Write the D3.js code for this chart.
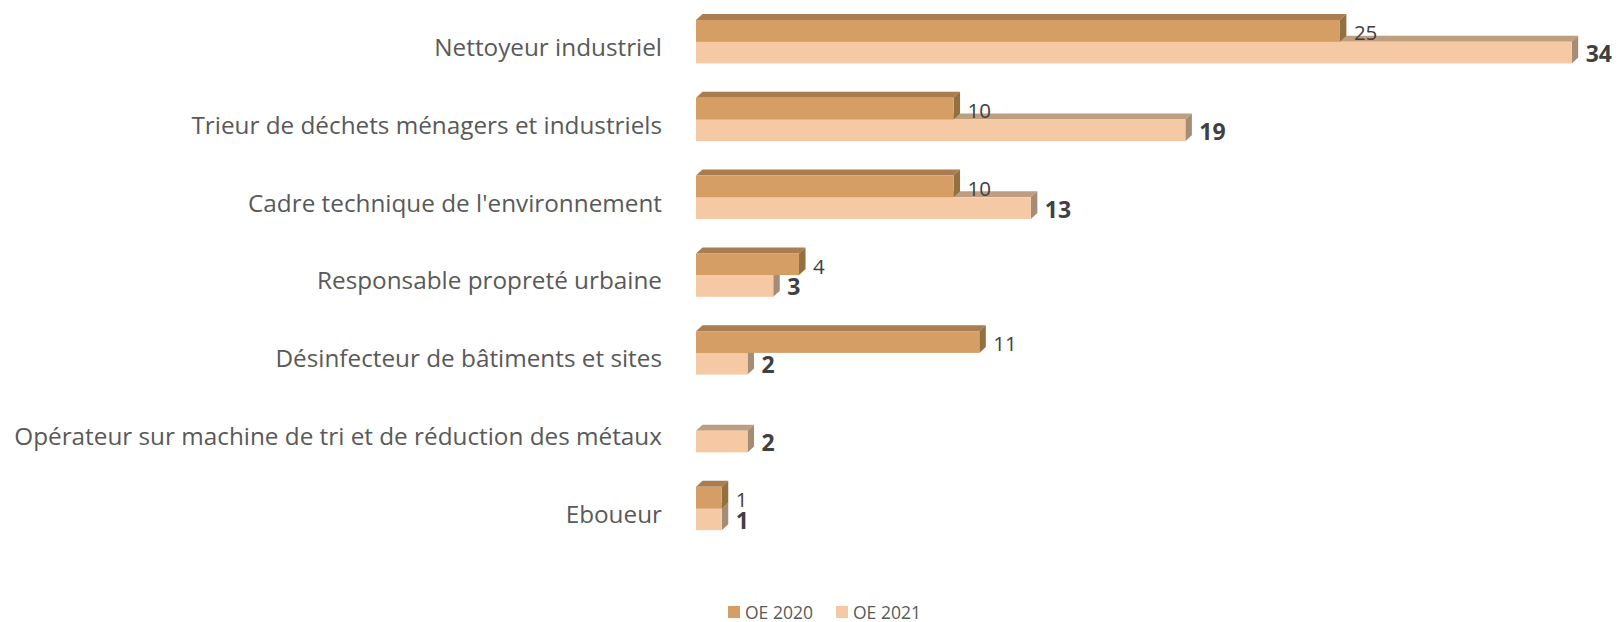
<!DOCTYPE html>
<html>
<head>
<meta charset="utf-8">
<script src="https://cdn.jsdelivr.net/npm/d3@7"></script>
<style>
  body { margin: 0; background: #fff; }
  svg { display: block; font-family: "Open Sans", Lato, sans-serif; }
</style>
</head>
<body>
<div id="chart"></div>
<script>
// Data
const categories = [
    "Nettoyeur industriel",
    "Trieur de déchets ménagers et industriels",
    "Cadre technique de l'environnement",
    "Responsable propreté urbaine",
    "Désinfecteur de bâtiments et sites",
    "Opérateur sur machine de tri et de réduction des métaux",
    "Eboueur"
];
const oe2020 = [25, 10, 10, 4, 11, null, 1];
const oe2021 = [34, 19, 13, 3, 2, 2, 1];
const seriesNames = ["OE 2020", "OE 2021"];

const width = 1619;
const height = 622;

// face colours: front, top, side
const palette = [
    { front: '#D59E65', top: '#A97D4F', side: '#93703F' },
    { front: '#F5C9A3', top: '#BE9E80', side: '#A68C74' }
];

const depthX = 6.5;
const depthY = 6;
const barH = 21.7;

const svg = d3.select('#chart').append('svg')
    .attr('width', width)
    .attr('height', height);

const x = d3.scaleLinear()
    .domain([0, 34])
    .range([696, 1571.7]);

const y = d3.scaleBand()
    .domain(categories)
    .range([2.8, 547.4])
    .padding(0);

const center = c => y(c) + y.bandwidth() / 2;

// build bar records, 2021 drawn first so 2020 sits over its top face
const bars = [];
categories.forEach((c, i) => {
    if (oe2021[i] != null) bars.push({ cat: c, value: oe2021[i], s: 1 });
});
categories.forEach((c, i) => {
    if (oe2020[i] != null) bars.push({ cat: c, value: oe2020[i], s: 0 });
});

function geom(d) {
    const x0 = x(0);
    const x1 = x(d.value);
    const yT = d.s === 0 ? center(d.cat) - barH : center(d.cat);
    const yB = yT + barH;
    return { x0, x1, yT, yB };
}

const barG = svg.append('g');

const bar = barG.selectAll('g.bar')
    .data(bars)
    .enter()
    .append('g')
    .attr('class', 'bar');

// top face
bar.append('path')
    .attr('d', d => {
        const g = geom(d);
        return `M${g.x0},${g.yT}L${g.x0 + depthX},${g.yT - depthY}L${g.x1 + depthX},${g.yT - depthY}L${g.x1},${g.yT}Z`;
    })
    .style('fill', d => palette[d.s].top);

// side face
bar.append('path')
    .attr('d', d => {
        const g = geom(d);
        return `M${g.x1},${g.yT}L${g.x1 + depthX},${g.yT - depthY}L${g.x1 + depthX},${g.yB - depthY}L${g.x1},${g.yB}Z`;
    })
    .style('fill', d => palette[d.s].side);

// front face
bar.append('rect')
    .attr('x', d => geom(d).x0)
    .attr('y', d => geom(d).yT)
    .attr('width', d => geom(d).x1 - geom(d).x0)
    .attr('height', barH)
    .style('fill', d => palette[d.s].front);

// value labels
svg.append('g')
    .selectAll('text')
    .data(bars)
    .enter()
    .append('text')
    .attr('x', d => x(d.value) + 14)
    .attr('y', d => geom(d).yB - 1.5)
    .attr('font-size', d => d.s === 1 ? '23px' : '20.5px')
    .attr('font-weight', d => d.s === 1 ? 'bold' : 'normal')
    .style('fill', '#404040')
    .text(d => d.value);

// category labels
svg.append('g')
    .selectAll('text')
    .data(categories)
    .enter()
    .append('text')
    .attr('x', 662)
    .attr('y', d => center(d) + 14.3)
    .attr('text-anchor', 'end')
    .attr('font-size', '24.3px')
    .style('fill', '#595959')
    .text(d => d);

// legend
const legend = svg.append('g')
    .selectAll('g')
    .data(seriesNames)
    .enter()
    .append('g')
    .attr('transform', (d, i) => `translate(${728 + i * 108},606)`);

legend.append('rect')
    .attr('width', 12)
    .attr('height', 12)
    .style('fill', (d, i) => palette[i].front);

legend.append('text')
    .attr('x', 17)
    .attr('y', 12.5)
    .attr('font-size', '17.5px')
    .style('fill', '#595959')
    .text(d => d);
</script>
</body>
</html>
